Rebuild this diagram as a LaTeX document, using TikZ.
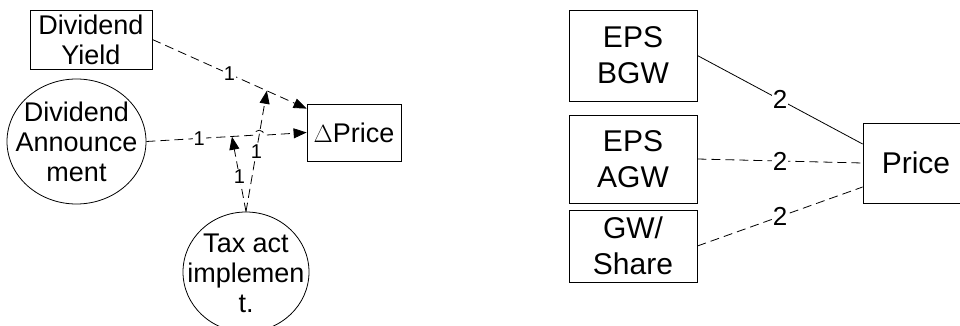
\documentclass[tikz,border=0pt]{standalone}
\usepackage{fontspec}
\setmainfont{Liberation Sans}
\usetikzlibrary{arrows.meta,shapes.geometric,intersections}
\begin{document}
\begin{tikzpicture}[x=1pt,y=-1pt,
  box/.style={draw, line width=0.8pt, inner sep=0pt, align=center},
  ell/.style={draw, ellipse, line width=0.8pt, inner sep=0pt},
  ltxt/.style={font=\fontsize{27}{30}\selectfont, align=center, inner sep=0pt},
  rtxt/.style={font=\fontsize{30}{36}\selectfont},
  conn/.style={line width=0.8pt},
  dsh/.style={dash pattern=on 9pt off 5pt},
  tipa/.style={-{Triangle[length=13pt,width=10pt]}},
  lbla/.style={fill=white, inner sep=1pt, font=\fontsize{20}{22}\selectfont},
  lblb/.style={fill=white, inner sep=1pt, font=\fontsize{26}{28}\selectfont},
]
\useasboundingbox (0,0) rectangle (960,326);

% left diagram
\node[box, ltxt, minimum width=122pt, minimum height=59pt] (dy) at (91,39.5) {Dividend\\Yield};
\node[ell, minimum width=139pt, minimum height=125pt] (da) at (76.5,141.5) {};
\node[ltxt] (datext) at (da.center) {Dividend\\Announce\\ment};
\node[box, ltxt, minimum width=94pt, minimum height=57pt] (dp) at (354,132.5) {$\Delta$Price};
\node[ell, minimum width=126pt, minimum height=120pt] (tax) at (246,272) {};
\node[ltxt] (taxtext) at ([yshift=-1pt]tax.center) {Tax act\\implemen\\t.};

\coordinate (dpin) at ([yshift=-5pt]dp.north west);

\draw[conn, dsh, tipa] (dy.east) -- (dpin)
  node[lbla, pos=0.5] (l1) {1}
  coordinate[pos=0.742] (c2);
\path[name path=daline] (da.east) -- (dp.west) coordinate[pos=0.534] (c1);
\path[name path=taxline] (tax.north) -- (c2);
\path[name intersections={of=daline and taxline, by=xc}];

\draw[conn, dsh, tipa] (da.east) -- ([xshift=-5pt]xc) arc[start angle=180, end angle=0, radius=5pt] -- (dp.west);
\path (da.east) -- (dp.west) node[lbla, pos=0.33] (l2) {1};

\draw[conn, dsh, tipa] (tax.north) -- (c1) node[lbla, pos=0.47] (l3) {1};
\draw[conn, dsh, tipa] (tax.north) -- (c2) node[lbla, pos=0.5] (l4) {1};

% right diagram
\node[box, rtxt, minimum width=128pt, minimum height=91pt] (bgw) at (633,55.5) {EPS\\BGW};
\node[box, rtxt, minimum width=128pt, minimum height=88pt] (agw) at (633,159) {EPS\\AGW};
\node[box, rtxt, minimum width=128pt, minimum height=72pt] (gws) at (633,246) {GW/\\Share};
\node[box, rtxt, minimum width=106pt, minimum height=80pt] (pr) at (916,163) {Price};

\draw[conn] (bgw.east) -- ([yshift=19pt]pr.west) node[lblb, pos=0.5] (r1) {2};
\draw[conn, dsh] (agw.east) -- (pr.west) node[lblb, pos=0.5] (r2) {2};
\draw[conn, dsh] (gws.east) -- ([yshift=-24pt]pr.west) node[lblb, pos=0.5] (r3) {2};
\end{tikzpicture}
\end{document}
